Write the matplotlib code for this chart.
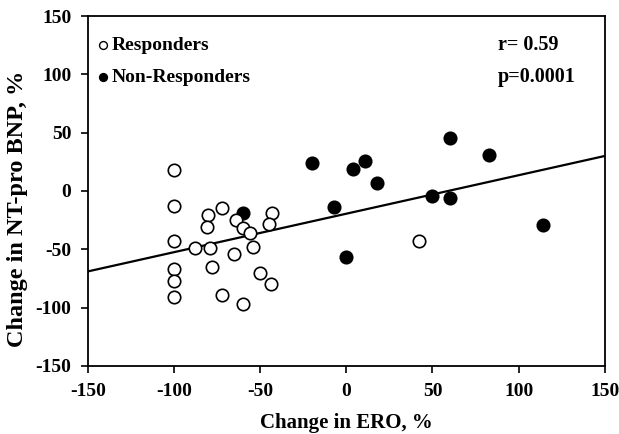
import matplotlib
matplotlib.use('Agg')
import matplotlib.pyplot as plt

# Responders (open circles)
resp_x = [-100, -100, -100, -100, -100, -100, -88, -79, -80, -81, -72, -78, -72,
          -64, -60, -56, -65, -60, -54, -50, -44, -43, -45, 42]
resp_y = [18, -13, -43, -67, -77, -91, -49, -49, -21, -31, -15, -65, -89,
          -25, -32, -36, -54, -97, -48, -70, -80, -19, -28, -43]

# Non-responders (filled circles)
nonresp_x = [-60, -20, 4, 11, 18, -7, 0, 50, 60, 60, 83, 114]
nonresp_y = [-19, 24, 19, 26, 7, -14, -57, -4, -6, 45, 31, -29]

# regression line ends
reg_x = [-150, 150]
reg_y = [-69, 30]

plt.rcParams['font.family'] = ['Liberation Serif', 'DejaVu Serif']
plt.rcParams['font.weight'] = 'bold'
plt.rcParams['axes.unicode_minus'] = False

fig = plt.figure(figsize=(6.19, 4.34), dpi=100)
ax = fig.add_axes([0.142, 0.157, 0.835, 0.806])

ax.plot(reg_x, reg_y, color='black', lw=1.6, zorder=1)
ax.scatter(nonresp_x, nonresp_y, s=80, facecolor='black', edgecolor='black', lw=1.2, zorder=2)
ax.scatter(resp_x, resp_y, s=80, facecolor='white', edgecolor='black', lw=1.2, zorder=3)

# legend drawn as text inside the plot
ax.scatter([-141.5], [125], s=32, facecolor='white', edgecolor='black', lw=1, zorder=3)
ax.scatter([-141.5], [97.5], s=32, facecolor='black', edgecolor='black', lw=1, zorder=3)
ax.text(-136, 125, 'Responders', fontsize=14, fontweight='bold', va='center')
ax.text(-136, 97.5, 'Non-Responders', fontsize=14, fontweight='bold', va='center')
ax.text(88, 125, 'r= 0.59', fontsize=14.5, fontweight='bold', va='center')
ax.text(88, 97.5, 'p=0.0001', fontsize=14.5, fontweight='bold', va='center')

ax.set_xlim(-150, 150)
ax.set_ylim(-150, 150)
ax.set_xticks([-150, -100, -50, 0, 50, 100, 150])
ax.set_yticks([-150, -100, -50, 0, 50, 100, 150])
ax.tick_params(direction='out', length=5, width=1.2, labelsize=14, pad=7)
for lab in ax.get_xticklabels() + ax.get_yticklabels():
    lab.set_fontweight('bold')
for sp in ax.spines.values():
    sp.set_linewidth(1.3)

ax.set_xlabel('Change in ERO, %', fontsize=15, fontweight='bold', labelpad=10)
ax.set_ylabel('Change in NT-pro BNP, %', fontsize=17.5, fontweight='bold', labelpad=5)
ax.yaxis.set_label_coords(-0.115, 0.45)

fig.savefig('out.png', dpi=100)
